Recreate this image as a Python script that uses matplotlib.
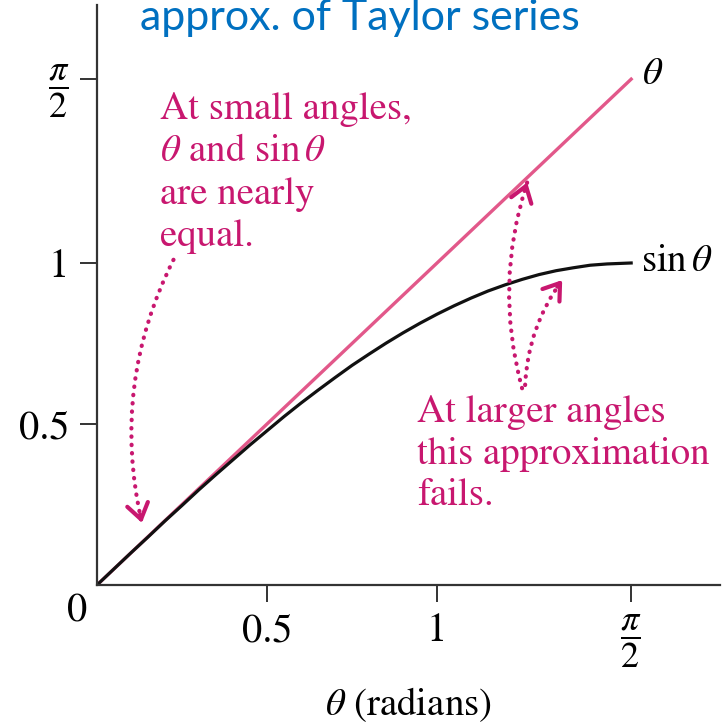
import matplotlib
matplotlib.use('Agg')
import matplotlib.pyplot as plt

# Data
line_x = [0.0, 1.5708]
line_y = [0.0, 1.5708]
sin_x = [0.0, 0.05, 0.1, 0.15, 0.2, 0.25, 0.3, 0.35, 0.4, 0.45, 0.5, 0.55, 0.6, 0.65, 0.7, 0.75,
         0.8, 0.85, 0.9, 0.95, 1.0, 1.05, 1.1, 1.15, 1.2, 1.25, 1.3, 1.35, 1.4, 1.45, 1.5, 1.5708]
sin_y = [0.0, 0.050, 0.100, 0.149, 0.199, 0.247, 0.296, 0.343, 0.389, 0.435, 0.479, 0.523, 0.565,
         0.605, 0.644, 0.682, 0.717, 0.751, 0.783, 0.813, 0.841, 0.867, 0.891, 0.913, 0.932, 0.949,
         0.964, 0.976, 0.985, 0.993, 0.997, 1.0]
tick_vals = [0.5, 1.0, 1.5708]
tick_labels = ['0.5', '1', r'$\dfrac{\pi}{2}$']

plt.rcParams['font.family'] = ['STIXGeneral', 'DejaVu Sans']
plt.rcParams['mathtext.fontset'] = 'stix'

PINK = '#C8176F'
LINE_PINK = '#E2588A'
AX_COL = '#333333'


def dotted_arrow(ax, tail, head, rad, head_dir):
    # dotted shaft
    ax.annotate('', xy=head, xytext=tail,
                arrowprops=dict(arrowstyle='-', linestyle=(0, (0.1, 1.9)), lw=3,
                                color=PINK, capstyle='round', shrinkA=0, shrinkB=0,
                                connectionstyle=f'arc3,rad={rad}'))
    # solid open head
    ax.annotate('', xy=head, xytext=(-head_dir[0] * 6, -head_dir[1] * 6),
                textcoords='offset points',
                arrowprops=dict(arrowstyle='->,head_length=0.55,head_width=0.38', lw=3,
                                color=PINK, shrinkA=0, shrinkB=0, mutation_scale=20))


def main():
    fig = plt.figure(figsize=(7.28, 7.28), dpi=100)
    ax = fig.add_axes([0.1332, 0.1964, 0.8558, 0.7967])

    ax.plot(line_x, line_y, color=LINE_PINK, lw=2.4)
    ax.plot(sin_x, sin_y, color='#111111', lw=2.3, solid_joinstyle='round')

    ax.set_xlim(0, 1.832)
    ax.set_ylim(0, 1.801)

    for side in ['top', 'right']:
        ax.spines[side].set_visible(False)
    for side in ['left', 'bottom']:
        ax.spines[side].set_linewidth(1.6)
        ax.spines[side].set_color(AX_COL)

    ax.set_xticks(tick_vals, tick_labels)
    ax.set_yticks(tick_vals, tick_labels)
    ax.tick_params(direction='out', length=12, width=1.4, color=AX_COL, labelsize=29, pad=8)
    for lbl in ax.get_xticklabels() + ax.get_yticklabels():
        if 'pi' in lbl.get_text():
            lbl.set_fontsize(26)
    ax.annotate('0', xy=(0, 0), xytext=(-14, -19), textcoords='offset points',
                ha='center', va='center', fontsize=29, annotation_clip=False)
    ax.set_xlabel(r'$\theta$ (radians)', fontsize=28, labelpad=11)

    # curve labels
    ax.annotate(r'$\theta$', xy=(line_x[-1], line_y[-1]), xytext=(8, 3),
                textcoords='offset points', ha='left', va='center', fontsize=28)
    ax.annotate(r'$\sin\theta$', xy=(sin_x[-1], sin_y[-1]), xytext=(7, 1),
                textcoords='offset points', ha='left', va='center', fontsize=28)

    # notes
    ax.text(0.185, 1.531, "At small angles,\n$\\theta$ and sin$\\,\\theta$\nare nearly\nequal.",
            color=PINK, fontsize=28, va='top', ha='left', linespacing=1.28)
    ax.text(0.941, 0.590, "At larger angles\nthis approximation\nfails.",
            color=PINK, fontsize=28, va='top', ha='left', linespacing=1.25)

    dotted_arrow(ax, (0.225, 1.010), (0.132, 0.193), 0.18, (0.226, -0.974))
    dotted_arrow(ax, (1.250, 0.611), (1.265, 1.250), -0.15, (0.31, 0.95))
    dotted_arrow(ax, (1.259, 0.621), (1.368, 0.947), -0.15, (0.59, 0.80))

    fig.text(140 / 728, 1 - 30 / 728, 'approx. of Taylor series', fontfamily='Lato',
             fontsize=31, color='#0070C0', va='baseline', ha='left')

    fig.savefig('out.png', dpi=100, facecolor='white')


if __name__ == '__main__':
    main()
